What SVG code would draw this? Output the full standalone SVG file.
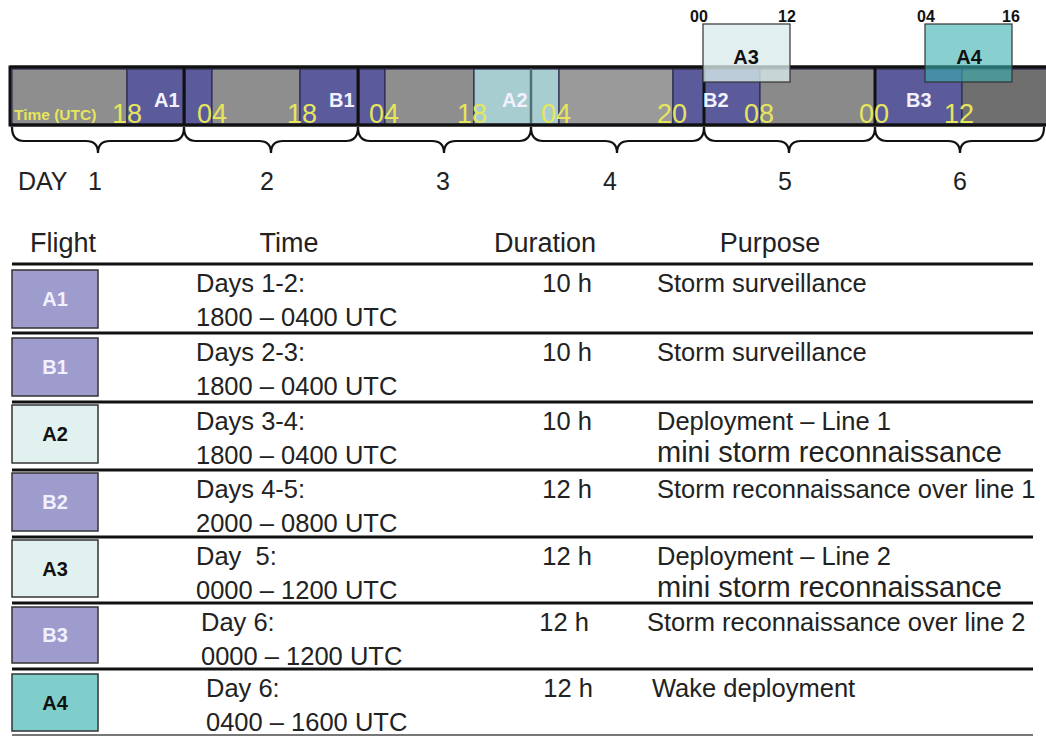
<svg xmlns="http://www.w3.org/2000/svg" width="1046" height="736" viewBox="0 0 1046 736">
<style>
text{font-family:"Liberation Sans",Arial,sans-serif}
.yl{fill:#e6e65c;font-size:27px}
.fl{fill:#f2f2ff;font-size:20px;font-weight:bold}
.tk{fill:#111;font-size:16px;font-weight:bold}
.ov{fill:#111;font-size:20px;font-weight:bold;text-anchor:middle}
.seg{stroke:#2b2b4f;stroke-width:1.2}
.g{fill:#8e8e8e}
.b{fill:#5b5a9b}
.lt{fill:#a8cdd0}
.br{fill:none;stroke:#111;stroke-width:2.2}
.day{fill:#222;font-size:25px}
.hd{fill:#222;font-size:27px}
.tx{fill:#222;font-size:25.5px}
.mn{fill:#222;font-size:29px}
.rl{stroke:#111;stroke-width:3}
.box{stroke:#333;stroke-width:1.5}
.bl{font-size:20px;font-weight:bold;text-anchor:middle}
</style>
<rect width="1046" height="736" fill="#fff"/>

<g id="timeline">
  <rect x="10" y="67" width="1040" height="58" fill="#8e8e8e" stroke="#111" stroke-width="3"/>
  <rect class="seg g" x="12" y="69" width="115" height="55"/>
  <rect class="seg b" x="127" y="69" width="57" height="55"/>
  <rect class="seg b" x="185" y="69" width="27" height="55"/>
  <rect class="seg g" x="212" y="69" width="88" height="55"/>
  <rect class="seg b" x="300" y="69" width="58" height="55"/>
  <rect class="seg b" x="359" y="69" width="26" height="55"/>
  <rect class="seg g" x="385" y="69" width="89" height="55"/>
  <rect class="seg lt" x="474" y="69" width="57" height="55" stroke="#4f6f72"/>
  <rect class="seg lt" x="531" y="69" width="28" height="55" stroke="#4f6f72"/>
  <rect class="seg" x="559" y="69" width="114" height="55" fill="#9a9a9a"/>
  <rect class="seg b" x="673" y="69" width="31" height="55"/>
  <rect class="seg b" x="704" y="69" width="56" height="55"/>
  <rect class="seg" x="760" y="69" width="115" height="55" fill="#8a8a8a"/>
  <rect class="seg b" x="875" y="69" width="87" height="55"/>
  <rect class="seg" x="962" y="69" width="86" height="55" fill="#6f6f6f"/>
  <g stroke="#111" stroke-width="3">
    <line x1="184" y1="67" x2="184" y2="125"/>
    <line x1="358" y1="67" x2="358" y2="125"/>
    <line x1="704" y1="67" x2="704" y2="125"/>
    <line x1="875" y1="67" x2="875" y2="125"/>
  </g>
  <line x1="531" y1="67" x2="531" y2="125" stroke="#4f6f72" stroke-width="2.5"/>
  <line x1="10" y1="67" x2="1046" y2="67" stroke="#111" stroke-width="3"/>
  <line x1="10" y1="125" x2="1046" y2="125" stroke="#111" stroke-width="3"/>

  <text x="14" y="120" fill="#e6e65c" font-size="15.5px" font-weight="bold">Time (UTC)</text>
  <text class="yl" x="112" y="123">18</text>
  <text class="fl" x="154" y="107">A1</text>
  <text class="yl" x="197" y="123">04</text>
  <text class="yl" x="287" y="123">18</text>
  <text class="fl" x="329" y="107">B1</text>
  <text class="yl" x="369" y="123">04</text>
  <text class="yl" x="457" y="123">18</text>
  <text class="fl" x="502" y="107" fill="#eef4f4">A2</text>
  <text class="yl" x="541" y="123">04</text>
  <text class="yl" x="657" y="123">20</text>
  <text class="fl" x="703" y="107">B2</text>
  <text class="yl" x="744" y="123">08</text>
  <text class="yl" x="859" y="123">00</text>
  <text class="fl" x="906" y="107">B3</text>
  <text class="yl" x="944" y="123">12</text>
</g>

<g id="flight-A3-bar">
  <rect x="703" y="24" width="87" height="58" fill="#d8eceb" fill-opacity="0.78" stroke="#333" stroke-width="1.2"/>
  <text class="tk" x="690" y="22">00</text>
  <text class="tk" x="778" y="22">12</text>
  <text class="ov" x="746" y="64">A3</text>
</g>
<g id="flight-A4-bar">
  <rect x="925" y="24" width="87" height="58" fill="#38b0b0" fill-opacity="0.6" stroke="#333" stroke-width="1.2"/>
  <text class="tk" x="917" y="22">04</text>
  <text class="tk" x="1002" y="22">16</text>
  <text class="ov" x="969" y="64">A4</text>
</g>

<g id="connectors">
  <path class="br" d="M12,127 Q12,141 24,141 L86,141 Q98,141 98,153 Q98,141 110,141 L172,141 Q184,141 184,127"/>
  <path class="br" d="M184,127 Q184,141 196,141 L259,141 Q271,141 271,153 Q271,141 283,141 L346,141 Q358,141 358,127"/>
  <path class="br" d="M358,127 Q358,141 370,141 L432,141 Q444,141 444,153 Q444,141 456,141 L519,141 Q531,141 531,127"/>
  <path class="br" d="M531,127 Q531,141 543,141 L605,141 Q617,141 617,153 Q617,141 629,141 L692,141 Q704,141 704,127"/>
  <path class="br" d="M704,127 Q704,141 716,141 L777,141 Q789,141 789,153 Q789,141 801,141 L863,141 Q875,141 875,127"/>
  <path class="br" d="M875,127 Q875,141 887,141 L948,141 Q960,141 960,153 Q960,141 972,141 L1032,141 Q1044,141 1044,127"/>
</g>

<g id="day-labels">
  <text class="day" x="18" y="190">DAY<tspan x="88">1</tspan></text>
  <text class="day" x="267" y="190" text-anchor="middle">2</text>
  <text class="day" x="443" y="190" text-anchor="middle">3</text>
  <text class="day" x="610" y="190" text-anchor="middle">4</text>
  <text class="day" x="785" y="190" text-anchor="middle">5</text>
  <text class="day" x="960" y="190" text-anchor="middle">6</text>
</g>

<g id="table-header">
  <text class="hd" x="30" y="252">Flight</text>
  <text class="hd" x="289" y="252" text-anchor="middle">Time</text>
  <text class="hd" x="545" y="252" text-anchor="middle">Duration</text>
  <text class="hd" x="770" y="252" text-anchor="middle">Purpose</text>
</g>

<g id="row-lines">
  <line class="rl" x1="12" y1="264" x2="1033" y2="264"/>
  <line class="rl" x1="12" y1="333" x2="1033" y2="333"/>
  <line class="rl" x1="12" y1="402" x2="1033" y2="402"/>
  <line class="rl" x1="12" y1="470" x2="1033" y2="470"/>
  <line class="rl" x1="12" y1="537" x2="1033" y2="537"/>
  <line class="rl" x1="12" y1="603" x2="1033" y2="603"/>
  <line class="rl" x1="12" y1="669" x2="1033" y2="669"/>
  <line x1="12" y1="735" x2="1033" y2="735" stroke="#777" stroke-width="2"/>
</g>

<g id="row-A1">
  <rect class="box" x="12" y="270" width="86" height="58" fill="#9e9bcd"/>
  <text class="bl" x="55" y="306" fill="#f0f0ff">A1</text>
  <text class="tx" x="196" y="292">Days 1-2:</text>
  <text class="tx" x="196" y="326">1800 – 0400 UTC</text>
  <text class="tx" x="592" y="292" text-anchor="end">10 h</text>
  <text class="tx" x="657" y="292">Storm surveillance</text>
</g>
<g id="row-B1">
  <rect class="box" x="12" y="338" width="86" height="58" fill="#9e9bcd"/>
  <text class="bl" x="55" y="374" fill="#f0f0ff">B1</text>
  <text class="tx" x="196" y="361">Days 2-3:</text>
  <text class="tx" x="196" y="395">1800 – 0400 UTC</text>
  <text class="tx" x="592" y="361" text-anchor="end">10 h</text>
  <text class="tx" x="657" y="361">Storm surveillance</text>
</g>
<g id="row-A2">
  <rect class="box" x="12" y="405" width="86" height="58" fill="#e0f1f0"/>
  <text class="bl" x="55" y="441" fill="#111">A2</text>
  <text class="tx" x="196" y="430">Days 3-4:</text>
  <text class="tx" x="196" y="464">1800 – 0400 UTC</text>
  <text class="tx" x="592" y="430" text-anchor="end">10 h</text>
  <text class="tx" x="657" y="430">Deployment – Line 1</text>
  <text class="mn" x="657" y="462">mini storm reconnaissance</text>
</g>
<g id="row-B2">
  <rect class="box" x="12" y="473" width="86" height="58" fill="#9e9bcd"/>
  <text class="bl" x="55" y="509" fill="#f0f0ff">B2</text>
  <text class="tx" x="196" y="498">Days 4-5:</text>
  <text class="tx" x="196" y="532">2000 – 0800 UTC</text>
  <text class="tx" x="592" y="498" text-anchor="end">12 h</text>
  <text class="tx" x="657" y="498">Storm reconnaissance over line 1</text>
</g>
<g id="row-A3">
  <rect class="box" x="12" y="540" width="86" height="57" fill="#e0f1f0"/>
  <text class="bl" x="55" y="576" fill="#111">A3</text>
  <text class="tx" x="196" y="565" xml:space="preserve">Day  5:</text>
  <text class="tx" x="196" y="599">0000 – 1200 UTC</text>
  <text class="tx" x="592" y="565" text-anchor="end">12 h</text>
  <text class="tx" x="657" y="565">Deployment – Line 2</text>
  <text class="mn" x="657" y="597">mini storm reconnaissance</text>
</g>
<g id="row-B3">
  <rect class="box" x="12" y="607" width="86" height="56" fill="#9e9bcd"/>
  <text class="bl" x="55" y="642" fill="#f0f0ff">B3</text>
  <text class="tx" x="201" y="631">Day 6:</text>
  <text class="tx" x="201" y="665">0000 – 1200 UTC</text>
  <text class="tx" x="589" y="631" text-anchor="end">12 h</text>
  <text class="tx" x="647" y="631">Storm reconnaissance over line 2</text>
</g>
<g id="row-A4">
  <rect class="box" x="12" y="674" width="86" height="57" fill="#7fcecb"/>
  <text class="bl" x="55" y="710" fill="#111">A4</text>
  <text class="tx" x="206" y="697">Day 6:</text>
  <text class="tx" x="206" y="731">0400 – 1600 UTC</text>
  <text class="tx" x="593" y="697" text-anchor="end">12 h</text>
  <text class="tx" x="652" y="697">Wake deployment</text>
</g>
</svg>
